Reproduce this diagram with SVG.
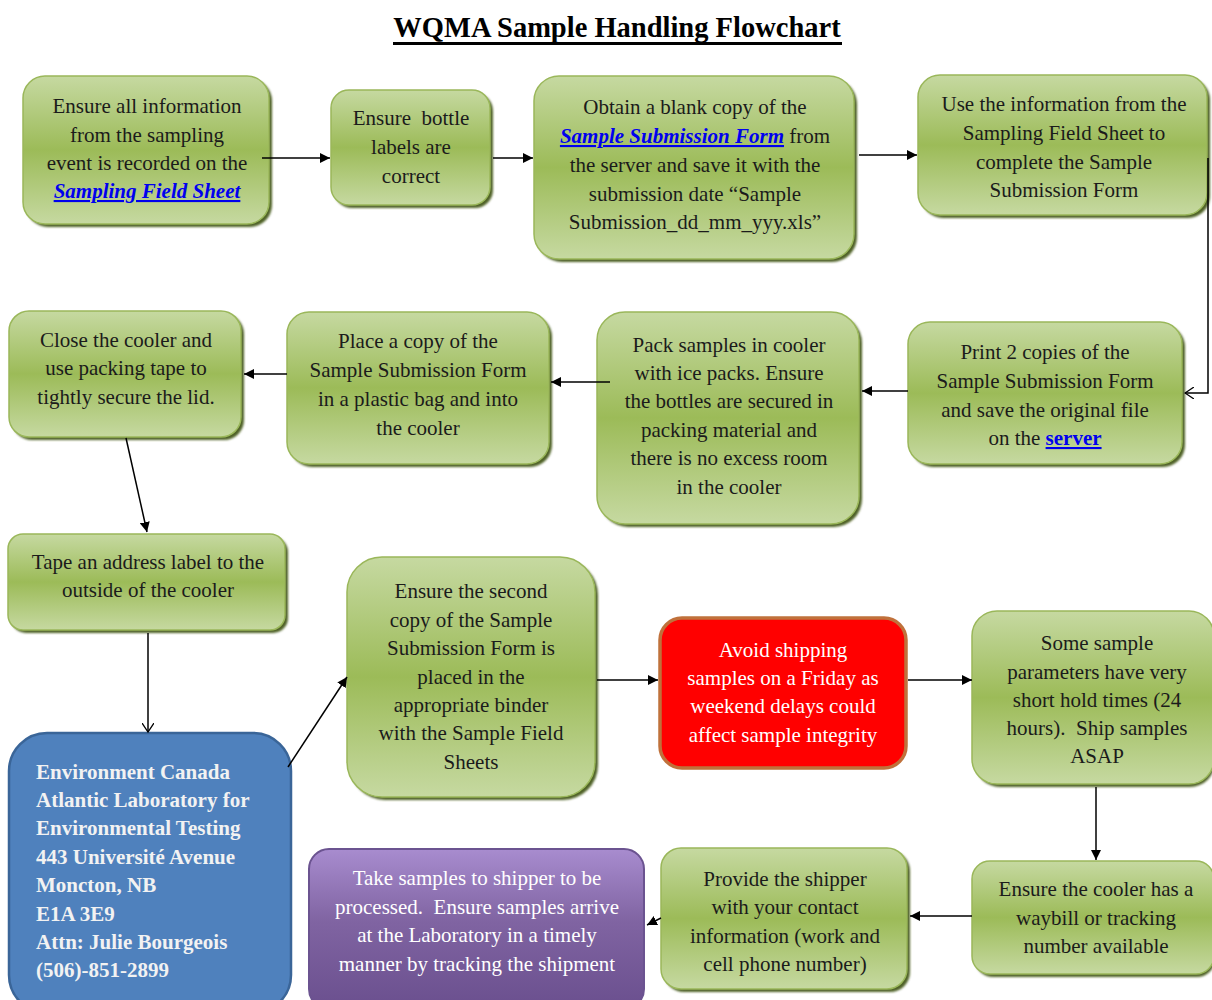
<svg xmlns="http://www.w3.org/2000/svg" width="1212" height="1000" viewBox="0 0 1212 1000">
<style>
.s{fill:#4f6228;filter:url(#sh)}
.n{fill:url(#g);stroke:#9ab75a;stroke-width:1.5}
.t{font-family:'Liberation Serif',serif;font-size:21px;fill:#1b1b1b;text-anchor:middle}
.wt{fill:#ffffff}
.k{fill:#0000ee;font-weight:bold;font-style:italic;text-decoration:underline}
.kb{fill:#0000ee;font-weight:bold;text-decoration:underline}
.bt{font-family:'Liberation Serif',serif;font-size:21px;font-weight:bold;fill:#f2f2f2}
.ti{font-family:'Liberation Serif',serif;font-size:28.5px;font-weight:bold;fill:#000;text-anchor:middle}
.c path{fill:none;stroke:#000;stroke-width:1.5}
</style>
<defs>
<linearGradient id="g" x1="0" y1="0" x2="0" y2="1">
<stop offset="0" stop-color="#c6d9a1"/>
<stop offset="0.5" stop-color="#9cbb58"/>
<stop offset="1" stop-color="#c6d9a1"/>
</linearGradient>
<linearGradient id="gp" x1="0" y1="0" x2="0" y2="1">
<stop offset="0" stop-color="#a88ccf"/>
<stop offset="0.45" stop-color="#8064a2"/>
<stop offset="1" stop-color="#6a4f8e"/>
</linearGradient>
<filter id="sh" x="-10%" y="-10%" width="120%" height="120%">
<feGaussianBlur stdDeviation="1.2"/>
</filter>
<marker id="a" viewBox="0 0 10 10" refX="10" refY="5" markerWidth="10" markerHeight="10" markerUnits="userSpaceOnUse" orient="auto">
<path d="M0,0 L10,5 L0,10 z" fill="#000"/>
</marker>
<marker id="o" viewBox="0 0 10 12" refX="9" refY="6" markerWidth="10" markerHeight="12" markerUnits="userSpaceOnUse" orient="auto">
<path d="M0,0 L9,6 L0,12" fill="none" stroke="#000" stroke-width="1.3"/>
</marker>
</defs>
<rect width="1212" height="1000" fill="#ffffff"/>

<g id="title">
<text class="ti" x="617" y="37">WQMA Sample Handling Flowchart</text>
<rect x="393" y="42" width="449" height="3" fill="#000"/>
</g>

<g id="n1">
<rect class="s" x="26" y="79" width="246" height="148" rx="22"/>
<rect class="n" x="23" y="76" width="246" height="148" rx="22"/>
<text class="t"><tspan x="147" y="113">Ensure all information</tspan><tspan x="147" y="142">from the sampling</tspan><tspan x="147" y="170">event is recorded on the</tspan><tspan x="147" y="198" class="k">Sampling Field Sheet</tspan></text>
</g>

<g id="n2">
<rect class="s" x="334" y="93" width="159" height="115" rx="18"/>
<rect class="n" x="331" y="90" width="159" height="115" rx="18"/>
<text class="t"><tspan x="411" y="125">Ensure&#160; bottle</tspan><tspan x="411" y="154">labels are</tspan><tspan x="411" y="183">correct</tspan></text>
</g>

<g id="n3">
<rect class="s" x="537" y="79" width="320" height="183" rx="25"/>
<rect class="n" x="534" y="76" width="320" height="183" rx="25"/>
<text class="t"><tspan x="695" y="114">Obtain a blank copy of the</tspan><tspan x="695" y="143"><tspan class="k">Sample Submission Form</tspan> from</tspan><tspan x="695" y="172">the server and save it with the</tspan><tspan x="695" y="201">submission date “Sample</tspan><tspan x="695" y="229">Submission_dd_mm_yyy.xls”</tspan></text>
</g>

<g id="n4">
<rect class="s" x="921" y="78" width="289" height="140" rx="22"/>
<rect class="n" x="918" y="75" width="289" height="140" rx="22"/>
<text class="t"><tspan x="1064" y="111">Use the information from the</tspan><tspan x="1064" y="140">Sampling Field Sheet to</tspan><tspan x="1064" y="169">complete the Sample</tspan><tspan x="1064" y="197">Submission Form</tspan></text>
</g>

<g id="n5">
<rect class="s" x="911" y="325" width="274" height="142" rx="22"/>
<rect class="n" x="908" y="322" width="274" height="142" rx="22"/>
<text class="t"><tspan x="1045" y="359">Print 2 copies of the</tspan><tspan x="1045" y="388">Sample Submission Form</tspan><tspan x="1045" y="417">and save the original file</tspan><tspan x="1045" y="445">on the <tspan class="kb">server</tspan></tspan></text>
</g>

<g id="n6">
<rect class="s" x="600" y="315" width="262" height="212" rx="28"/>
<rect class="n" x="597" y="312" width="262" height="212" rx="28"/>
<text class="t"><tspan x="729" y="352">Pack samples in cooler</tspan><tspan x="729" y="380">with ice packs. Ensure</tspan><tspan x="729" y="408">the bottles are secured in</tspan><tspan x="729" y="437">packing material and</tspan><tspan x="729" y="465">there is no excess room</tspan><tspan x="729" y="494">in the cooler</tspan></text>
</g>

<g id="n7">
<rect class="s" x="290" y="315" width="262" height="152" rx="22"/>
<rect class="n" x="287" y="312" width="262" height="152" rx="22"/>
<text class="t"><tspan x="418" y="348">Place a copy of the</tspan><tspan x="418" y="377">Sample Submission Form</tspan><tspan x="418" y="406">in a plastic bag and into</tspan><tspan x="418" y="435">the cooler</tspan></text>
</g>

<g id="n8">
<rect class="s" x="12" y="314" width="232" height="126" rx="20"/>
<rect class="n" x="9" y="311" width="232" height="126" rx="20"/>
<text class="t"><tspan x="126" y="347">Close the cooler and</tspan><tspan x="126" y="375">use packing tape to</tspan><tspan x="126" y="404">tightly secure the lid.</tspan></text>
</g>

<g id="n9">
<rect class="s" x="11" y="537" width="277" height="96" rx="15"/>
<rect class="n" x="8" y="534" width="277" height="96" rx="15"/>
<text class="t"><tspan x="148" y="569">Tape an address label to the</tspan><tspan x="148" y="597">outside of the cooler</tspan></text>
</g>

<g id="n10">
<rect x="9" y="733" width="282" height="280" rx="38" fill="#4f81bd" stroke="#3a6598" stroke-width="2.5"/>
<text class="bt"><tspan x="36" y="779">Environment Canada</tspan><tspan x="36" y="807">Atlantic Laboratory for</tspan><tspan x="36" y="835">Environmental Testing</tspan><tspan x="36" y="864">443 Université Avenue</tspan><tspan x="36" y="892">Moncton, NB</tspan><tspan x="36" y="921">E1A 3E9</tspan><tspan x="36" y="949">Attn: Julie Bourgeois</tspan><tspan x="36" y="977">(506)-851-2899</tspan></text>
</g>

<g id="n11">
<rect class="s" x="350" y="560" width="248" height="240" rx="35"/>
<rect class="n" x="347" y="557" width="248" height="240" rx="35"/>
<text class="t"><tspan x="471" y="598">Ensure the second</tspan><tspan x="471" y="627">copy of the Sample</tspan><tspan x="471" y="655">Submission Form is</tspan><tspan x="471" y="684">placed in the</tspan><tspan x="471" y="712">appropriate binder</tspan><tspan x="471" y="740">with the Sample Field</tspan><tspan x="471" y="769">Sheets</tspan></text>
</g>

<g id="n12">
<rect x="660" y="618" width="246" height="150" rx="22" fill="#ff0000" stroke="#c0713b" stroke-width="3.5"/>
<text class="t wt"><tspan x="783" y="657">Avoid shipping</tspan><tspan x="783" y="685">samples on a Friday as</tspan><tspan x="783" y="713">weekend delays could</tspan><tspan x="783" y="742">affect sample integrity</tspan></text>
</g>

<g id="n13">
<rect class="s" x="975" y="614" width="240" height="173" rx="25"/>
<rect class="n" x="972" y="611" width="242" height="173" rx="25"/>
<text class="t"><tspan x="1097" y="650">Some sample</tspan><tspan x="1097" y="679">parameters have very</tspan><tspan x="1097" y="707">short hold times (24</tspan><tspan x="1097" y="735">hours).&#160; Ship samples</tspan><tspan x="1097" y="763">ASAP</tspan></text>
</g>

<g id="n14">
<rect class="s" x="975" y="864" width="240" height="113" rx="18"/>
<rect class="n" x="972" y="861" width="242" height="113" rx="18"/>
<text class="t"><tspan x="1096" y="896">Ensure the cooler has a</tspan><tspan x="1096" y="925">waybill or tracking</tspan><tspan x="1096" y="953">number available</tspan></text>
</g>

<g id="n15">
<rect class="s" x="664" y="851" width="246" height="141" rx="20"/>
<rect class="n" x="661" y="848" width="246" height="141" rx="20"/>
<text class="t"><tspan x="785" y="886">Provide the shipper</tspan><tspan x="785" y="914">with your contact</tspan><tspan x="785" y="943">information (work and</tspan><tspan x="785" y="971">cell phone number)</tspan></text>
</g>

<g id="n16">
<rect x="309" y="849" width="335" height="160" rx="20" fill="url(#gp)" stroke="#6b5390" stroke-width="2"/>
<text class="t wt"><tspan x="477" y="885">Take samples to shipper to be</tspan><tspan x="477" y="914">processed.&#160; Ensure samples arrive</tspan><tspan x="477" y="942">at the Laboratory in a timely</tspan><tspan x="477" y="971">manner by tracking the shipment</tspan></text>
</g>

<g id="connectors" class="c">
<path d="M262,158 L330,158" marker-end="url(#a)"/>
<path d="M493,158 L533,158" marker-end="url(#a)"/>
<path d="M859,155 L917,155" marker-end="url(#a)"/>
<path d="M1208,158 V393 H1185" marker-end="url(#o)"/>
<path d="M908,391 L862,391" marker-end="url(#a)"/>
<path d="M610,382 L551,382" marker-end="url(#a)"/>
<path d="M287,374 L244,374" marker-end="url(#a)"/>
<path d="M126,438 L147,532" marker-end="url(#a)"/>
<path d="M148,633 L148,732" marker-end="url(#o)"/>
<path d="M288,767 L347,677" marker-end="url(#a)"/>
<path d="M597,680 L658,680" marker-end="url(#a)"/>
<path d="M908,680 L972,680" marker-end="url(#a)"/>
<path d="M1096,787 L1096,860" marker-end="url(#a)"/>
<path d="M972,916 L910,916" marker-end="url(#a)"/>
<path d="M661,918 L647,925" marker-end="url(#a)"/>
</g>
</svg>
